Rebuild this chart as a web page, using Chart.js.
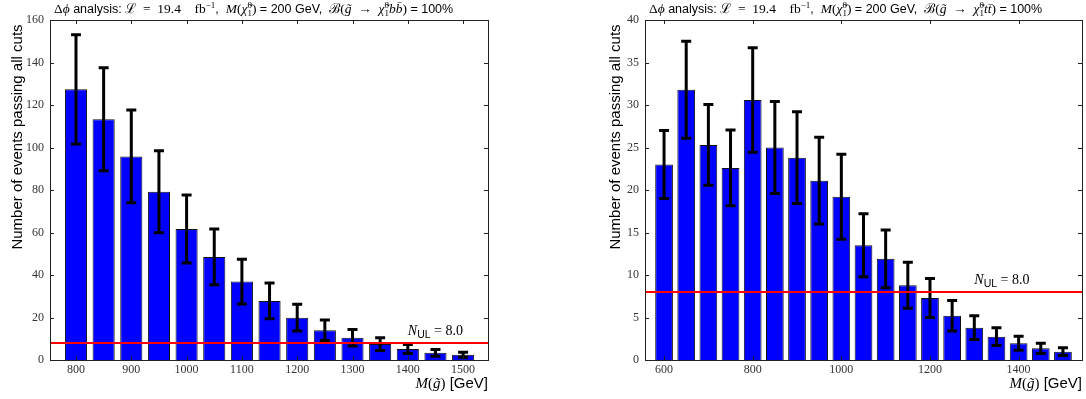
<!DOCTYPE html>
<html>
<head>
<meta charset="utf-8">
<script src="https://cdn.jsdelivr.net/npm/chart.js@4.4.1/dist/chart.umd.min.js"></script>
<style>
  html, body { margin: 0; padding: 0; background: #fff; }
  #wrap { position: relative; width: 1086px; height: 399px; }
  canvas { position: absolute; top: 0; }
</style>
</head>
<body>
<div id="wrap">
  <canvas id="chartB" width="543" height="399" style="left:0"></canvas>
  <canvas id="chartT" width="543" height="399" style="left:543px"></canvas>
</div>
<script>
// gluino -> neutralino b bbar (left panel)
const massB = [800, 850, 900, 950, 1000, 1050, 1100, 1150, 1200, 1250, 1300, 1350, 1400, 1450, 1500];
const eventsB = [127.4, 113.3, 95.8, 79.2, 61.6, 48.5, 36.9, 27.8, 19.9, 14.0, 10.5, 7.5, 5.2, 3.4, 2.5];
const errorsB = [25.7, 24.2, 21.8, 19.3, 16.0, 13.1, 10.5, 8.4, 6.3, 4.8, 3.9, 3.0, 2.1, 1.6, 1.2];
const xTicksB = [800, 900, 1000, 1100, 1200, 1300, 1400, 1500];
const yTicksB = [0, 20, 40, 60, 80, 100, 120, 140, 160];

// gluino -> neutralino t tbar (right panel)
const massT = [600, 650, 700, 750, 800, 850, 900, 950, 1000, 1050, 1100, 1150, 1200, 1250, 1300, 1350, 1400, 1450, 1500];
const eventsT = [23.0, 31.8, 25.3, 22.6, 30.6, 25.0, 23.8, 21.1, 19.2, 13.5, 11.9, 8.8, 7.3, 5.2, 3.8, 2.75, 1.96, 1.37, 0.98];
const errorsT = [4.0, 5.7, 4.75, 4.45, 6.15, 5.4, 5.4, 5.1, 5.0, 3.7, 3.4, 2.7, 2.3, 1.8, 1.4, 1.05, 0.82, 0.6, 0.45];
const xTicksT = [600, 800, 1000, 1200, 1400];
const yTicksT = [0, 5, 10, 15, 20, 25, 30, 35, 40];

// upper limit on the number of events
const nUL = 8.0;

const sans = sz => `${sz}px "Liberation Sans", Arial, sans-serif`;
const serif = sz => `${sz}px "Liberation Serif", "DejaVu Serif", serif`;
const ital = sz => `italic ${sz}px "Liberation Serif", "DejaVu Serif", serif`;

// draws text made of several pieces (fonts, sub/superscripts), returns width
function drawRich(ctx, x0, y, segs, measureOnly) {
    let x = x0, prevX = x0, prevW = 0;
    segs.forEach(s => {
        ctx.font = s.f;
        const w = ctx.measureText(s.t).width;
        const sx = s.stack ? prevX : x;
        if (!measureOnly) ctx.fillText(s.t, sx, y + (s.dy || 0));
        if (s.stack) {
            x = prevX + Math.max(prevW, w);
        } else {
            prevX = sx; prevW = w; x = sx + w;
        }
    });
    return x - x0;
}

function titleSegs(q) {
    const T = 12.5, M = 13.5, S = 9;
    return [
        { t: 'Δ', f: serif(M) }, { t: 'ϕ', f: ital(M) },
        { t: ' analysis: ', f: sans(T) },
        { t: 'ℒ\u2002=\u200219.4\u2003fb', f: serif(M) }, { t: '−1', f: serif(S), dy: -5 },
        { t: ',  ', f: sans(T) },
        { t: 'M', f: ital(M) }, { t: '(', f: serif(M) }, { t: 'χ\u0303', f: ital(M) },
        { t: '0', f: serif(S), dy: -5 }, { t: '1', f: serif(S), dy: 3, stack: true },
        { t: ')', f: serif(M) },
        { t: ' = 200 GeV,  ', f: sans(T) },
        { t: 'ℬ(', f: serif(M) }, { t: 'g\u0303', f: ital(M) }, { t: '\u2002→\u2002', f: serif(M) },
        { t: 'χ\u0303', f: ital(M) },
        { t: '0', f: serif(S), dy: -5 }, { t: '1', f: serif(S), dy: 3, stack: true },
        { t: q + q + '\u0304', f: ital(M) }, { t: ')', f: serif(M) },
        { t: ' = 100%', f: sans(T) }
    ];
}

const xLabelSegs = [
    { t: 'M', f: ital(15) }, { t: '(', f: serif(15) }, { t: 'g\u0303', f: ital(15) },
    { t: ')', f: serif(15) }, { t: ' [GeV]', f: sans(15) }
];
const ulSegs = [
    { t: 'N', f: ital(14) }, { t: 'UL', f: sans(10.5), dy: 3 }, { t: ' = 8.0', f: serif(14) }
];

function makeChart(id, p) {
    const decor = {
        id: 'decor',
        afterDatasetDraw(chart, args) {
            if (args.index !== 0) return;
            // error bars
            const ctx = chart.ctx, xs = chart.scales.x, ys = chart.scales.y;
            ctx.save();
            ctx.strokeStyle = '#000';
            ctx.lineWidth = 3;
            p.mass.forEach((m, i) => {
                const x = xs.getPixelForValue(m);
                const y1 = ys.getPixelForValue(p.events[i] + p.errors[i]);
                const y2 = ys.getPixelForValue(p.events[i] - p.errors[i]);
                ctx.beginPath();
                ctx.moveTo(x, y1); ctx.lineTo(x, y2);
                ctx.moveTo(x - 5, y1); ctx.lineTo(x + 5, y1);
                ctx.moveTo(x - 5, y2); ctx.lineTo(x + 5, y2);
                ctx.stroke();
            });
            ctx.restore();
        },
        afterDraw(chart) {
            const ctx = chart.ctx, a = chart.chartArea;
            const xs = chart.scales.x, ys = chart.scales.y;
            ctx.save();
            // inward ticks on all four sides + frame
            ctx.strokeStyle = '#222';
            ctx.lineWidth = 1;
            ctx.beginPath();
            xs.ticks.forEach(t => {
                const x = Math.round(xs.getPixelForValue(t.value)) + 0.5;
                ctx.moveTo(x, a.bottom); ctx.lineTo(x, a.bottom - 4);
                ctx.moveTo(x, a.top); ctx.lineTo(x, a.top + 4);
            });
            ys.ticks.forEach(t => {
                const y = Math.round(ys.getPixelForValue(t.value)) + 0.5;
                ctx.moveTo(a.left, y); ctx.lineTo(a.left + 4, y);
                ctx.moveTo(a.right, y); ctx.lineTo(a.right - 4, y);
            });
            ctx.stroke();
            ctx.strokeRect(Math.round(a.left) + 0.5, Math.round(a.top) + 0.5,
                Math.round(a.right - a.left), Math.round(a.bottom - a.top));

            ctx.fillStyle = '#000';
            ctx.textBaseline = 'alphabetic';
            // title
            drawRich(ctx, a.left + 4, 13, titleSegs(p.quark));
            // x label, right aligned on the axis end
            const w = drawRich(ctx, 0, 0, xLabelSegs, true);
            drawRich(ctx, a.right - w, 388, xLabelSegs);
            // N_UL label above the red line
            drawRich(ctx, xs.getPixelForValue(p.ulX), ys.getPixelForValue(nUL) - 8, ulSegs);
            // y label
            ctx.translate(p.yLabelX, 137);
            ctx.rotate(-Math.PI / 2);
            ctx.font = sans(15);
            ctx.textAlign = 'center';
            ctx.textBaseline = 'middle';
            ctx.fillText('Number of events passing all cuts', 0, 0);
            ctx.restore();
        }
    };

    return new Chart(document.getElementById(id), {
        type: 'bar',
        data: {
            datasets: [{
                type: 'bar',
                data: p.mass.map((m, i) => ({ x: m, y: p.events[i] })),
                backgroundColor: '#0000ff',
                borderColor: '#111',
                borderWidth: 1,
                barPercentage: 0.8,
                categoryPercentage: 1.0,
                order: 0
            }, {
                type: 'line',
                data: [{ x: p.xMin, y: nUL }, { x: p.xMax, y: nUL }],
                borderColor: '#ff0000',
                borderWidth: 2,
                pointRadius: 0,
                order: -1
            }]
        },
        options: {
            responsive: false,
            devicePixelRatio: 1,
            animation: false,
            layout: { padding: { top: 20, right: p.padRight, left: 0, bottom: 0 } },
            plugins: { legend: { display: false }, tooltip: { enabled: false } },
            scales: {
                x: {
                    type: 'linear',
                    min: p.xMin,
                    max: p.xMax,
                    offset: false,
                    grid: { display: false, drawTicks: false },
                    border: { display: false },
                    afterBuildTicks: s => { s.ticks = p.xTicks.map(v => ({ value: v })); },
                    afterFit: s => { s.height = 39; },
                    ticks: {
                        padding: 3,
                        maxRotation: 0,
                        autoSkip: false,
                        color: '#333',
                        font: { family: '"Liberation Serif", serif', size: 12 },
                        callback: v => String(v)
                    }
                },
                y: {
                    min: 0,
                    max: p.yTicks[p.yTicks.length - 1],
                    grid: { display: false, drawTicks: false },
                    border: { display: false },
                    afterBuildTicks: s => { s.ticks = p.yTicks.map(v => ({ value: v })); },
                    afterFit: s => { s.width = p.axisWidth; },
                    ticks: {
                        padding: 6,
                        color: '#333',
                        font: { family: '"Liberation Serif", serif', size: 12 },
                        callback: v => String(v)
                    }
                }
            }
        },
        plugins: [decor]
    });
}

makeChart('chartB', {
    mass: massB, events: eventsB, errors: errorsB,
    xMin: 753, xMax: 1545, xTicks: xTicksB, yTicks: yTicksB,
    axisWidth: 50, padRight: 55, quark: 'b', ulX: 1400, yLabelX: 17.5
});
makeChart('chartT', {
    mass: massT, events: eventsT, errors: errorsT,
    xMin: 557, xMax: 1543, xTicks: xTicksT, yTicks: yTicksT,
    axisWidth: 102, padRight: 4, quark: 't', ulX: 1300, yLabelX: 73
});
</script>
</body>
</html>
